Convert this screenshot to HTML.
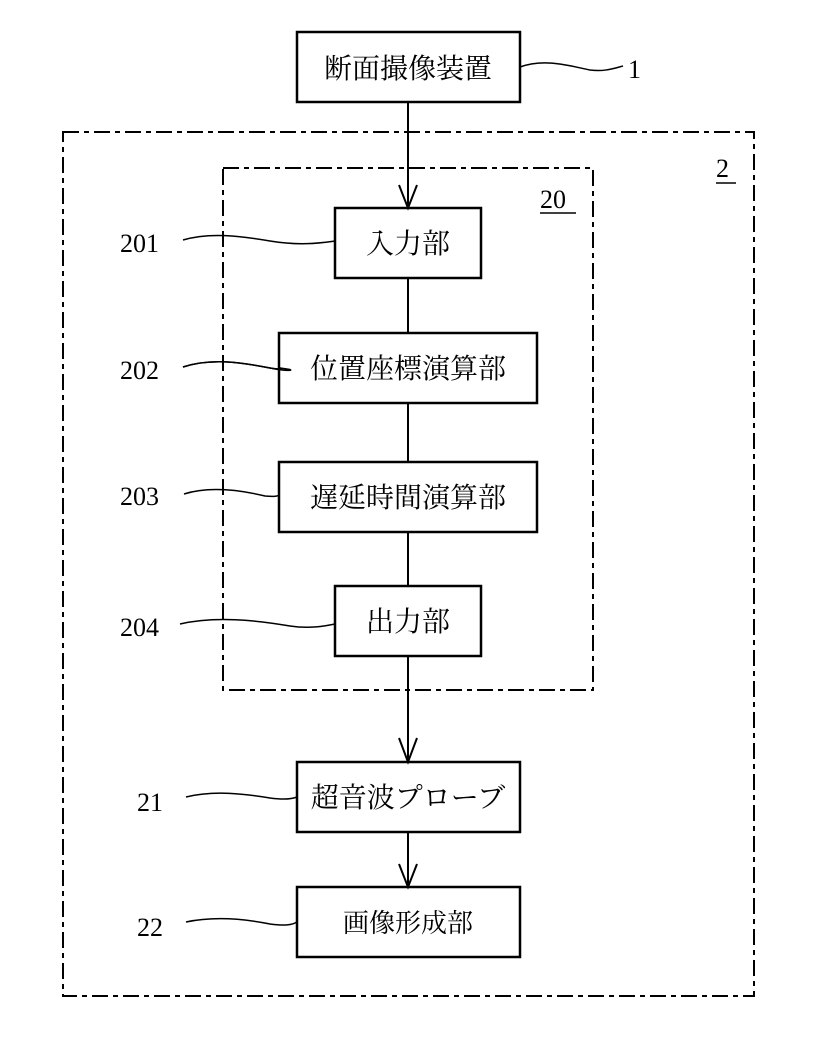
<!DOCTYPE html>
<html><head><meta charset="utf-8"><style>
html,body{margin:0;padding:0;background:#fff;}
svg{display:block;}
text{font-family:"Liberation Serif","Noto Serif CJK JP",serif;fill:#000;}
</style></head><body>
<svg width="815" height="1039" viewBox="0 0 815 1039" xmlns="http://www.w3.org/2000/svg">
<g fill="none" stroke="#000">
<!-- frames -->
<rect x="63" y="132" width="691" height="864" stroke-width="2" stroke-dasharray="16,5,5,5"/>
<rect x="223" y="168" width="370" height="522" stroke-width="2" stroke-dasharray="16,5,5,5"/>
<!-- boxes -->
<g stroke-width="2.5">
<rect x="297" y="32" width="223" height="70"/>
<rect x="335" y="208" width="146" height="70"/>
<rect x="279" y="333" width="258" height="70"/>
<rect x="279" y="462" width="258" height="70"/>
<rect x="335" y="586" width="146" height="70"/>
<rect x="297" y="762" width="223" height="70"/>
<rect x="297" y="887" width="223" height="70"/>
</g>
<!-- connectors -->
<g stroke-width="2">
<line x1="408" y1="102" x2="408" y2="208"/>
<polyline points="399,185 408,208 417,185"/>
<line x1="408" y1="278" x2="408" y2="333"/>
<line x1="408" y1="403" x2="408" y2="462"/>
<line x1="408" y1="532" x2="408" y2="586"/>
<line x1="408" y1="656" x2="408" y2="762"/>
<polyline points="399,738 408,762 417,738"/>
<line x1="408" y1="832" x2="408" y2="887"/>
<polyline points="399,864 408,887 417,864"/>
</g>
<!-- leaders -->
<g stroke-width="1.5">
<path d="M520,67 C545,58 570,66 590,70 C605,72 615,68 623,66"/>
<path d="M183,240 C210,232 240,236 270,241 C300,246 320,243 335,241"/>
<path d="M183,367 C210,358 240,362 270,368 C290,372 300,370 279,368"/>
<path d="M183,367 C210,358 240,362 270,368 C280,370 286,368 279,368"/>
<path d="M184,494 C210,486 240,490 265,496 C275,497 280,496 279,494"/>
<path d="M180,624 C215,616 255,620 290,626 C310,629 325,626 335,624"/>
<path d="M186,797 C215,790 245,794 270,798 C285,800 292,799 297,797"/>
<path d="M186,922 C215,916 245,919 270,924 C285,926 292,925 297,922"/>
</g>
<!-- underlines -->
<line x1="540" y1="213" x2="576" y2="213" stroke-width="1.5"/>
<line x1="716" y1="183" x2="736" y2="183" stroke-width="1.5"/>
</g>
<!-- box text -->
<g font-size="28" text-anchor="middle">
<text x="408" y="78">断面撮像装置</text>
<text x="408" y="253">入力部</text>
<text x="408" y="378">位置座標演算部</text>
<text x="408" y="507">遅延時間演算部</text>
<text x="408" y="631">出力部</text>
<text x="408" y="807">超音波プローブ</text>
<text x="408" y="932" font-size="26">画像形成部</text>
</g>
<!-- labels -->
<g font-size="26">
<text x="628" y="78">1</text>
<text x="716" y="177">2</text>
<text x="540" y="208">20</text>
<text x="120" y="252">201</text>
<text x="120" y="379">202</text>
<text x="120" y="505">203</text>
<text x="120" y="636">204</text>
<text x="137" y="811">21</text>
<text x="137" y="936">22</text>
</g>
</svg>
</body></html>
